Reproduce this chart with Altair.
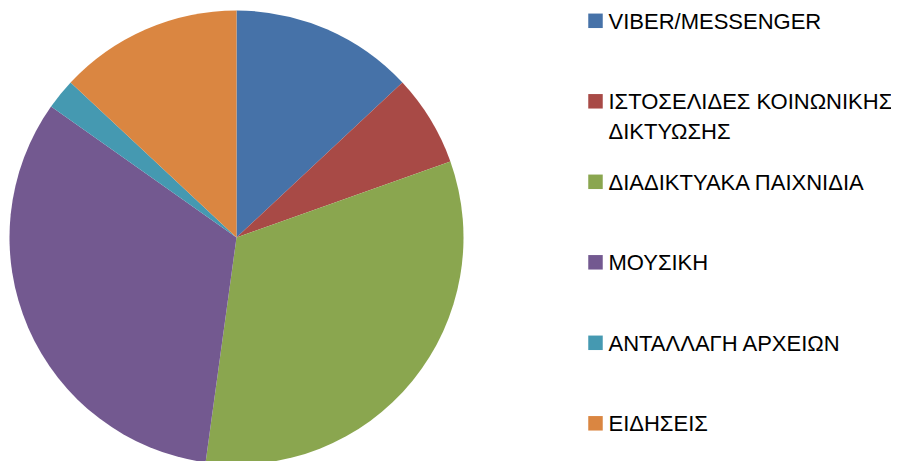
import altair as alt
import pandas as pd

categories = ["VIBER/MESSENGER", "ΙΣΤΟΣΕΛΙΔΕΣ ΚΟΙΝΩΝΙΚΗΣ ΔΙΚΤΥΩΣΗΣ", "ΔΙΑΔΙΚΤΥΑΚΑ ΠΑΙΧΝΙΔΙΑ",
              "ΜΟΥΣΙΚΗ", "ΑΝΤΑΛΛΑΓΗ ΑΡΧΕΙΩΝ", "ΕΙΔΗΣΕΙΣ"]
labels = ["VIBER/MESSENGER", "ΙΣΤΟΣΕΛΙΔΕΣ ΚΟΙΝΩΝΙΚΗΣ\nΔΙΚΤΥΩΣΗΣ", "ΔΙΑΔΙΚΤΥΑΚΑ ΠΑΙΧΝΙΔΙΑ",
          "ΜΟΥΣΙΚΗ", "ΑΝΤΑΛΛΑΓΗ ΑΡΧΕΙΩΝ", "ΕΙΔΗΣΕΙΣ"]
values = [6, 3, 15, 15, 1, 6]
colors = ["#4672A8", "#A84A46", "#8AA64F", "#735990", "#4599B1", "#DA8641"]

df = pd.DataFrame({"cat": categories, "label": labels, "value": values,
                   "idx": list(range(len(categories)))})

color = alt.Color("cat:N", scale=alt.Scale(domain=categories, range=colors), legend=None)

pie = alt.Chart(df).mark_arc(stroke=None).encode(
    theta=alt.Theta("value:Q", stack=True),
    order=alt.Order("idx:Q"),
    color=color,
    x=alt.value(228.5),
    y=alt.value(229.5),
    radius=alt.value(227),
)

yenc = alt.Y("cat:N", sort=categories, axis=None,
             scale=alt.Scale(type="point", range=[12.8, 415.3], padding=0))

squares = alt.Chart(df).mark_square(size=210, opacity=1).encode(
    x=alt.value(587.5),
    y=yenc,
    color=color,
)

texts = alt.Chart(df).mark_text(
    align="left", baseline="alphabetic", dy=7.8, lineBreak="\n", lineHeight=30,
    font="Liberation Sans", fontSize=22, color="#000000",
).encode(
    x=alt.value(600.5),
    y=yenc,
    text="label:N",
)

chart = alt.layer(pie, squares, texts).properties(
    width=883, height=453,
    autosize=alt.AutoSizeParams(type="none"),
    padding=0,
).configure_view(stroke=None)

chart.save("out.html", embed_options={"renderer": "svg", "actions": False})
